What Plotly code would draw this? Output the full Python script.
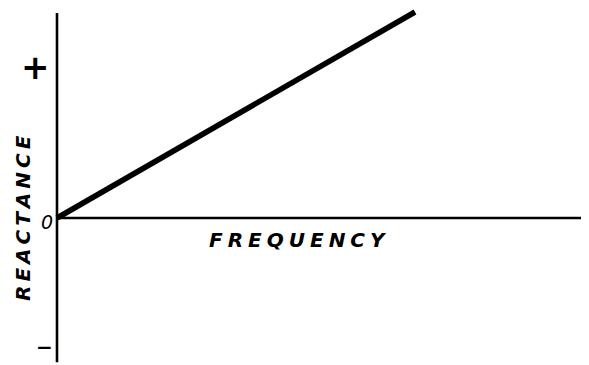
import plotly.graph_objects as go

# the page puts the figure 8px in from the top-left corner
PAGE_W, PAGE_H, PAD = 589, 365, 8
W, H = PAGE_W - PAD, PAGE_H - PAD

# inductive reactance grows in proportion to frequency
frequency = [0.0, 1.0]
reactance = [0.0, 1.0]

axis_x_span = [0.0, 1.478]
axis_y_span = [-0.70, 0.995]

FONT = "DejaVu Sans"
TS = "\u2009"  # thin space to stretch the lettering
QS = "\u2005"  # four-per-em space


def spaced(word, gap):
    return gap.join(word)


def to_paper(x, y):
    return (x - PAD) / W, 1 - (y - PAD) / H


fig = go.Figure()

# hand-drawn style axes
fig.add_trace(go.Scatter(x=[0, 0], y=axis_y_span, mode="lines",
                         line=dict(color="black", width=2.6), hoverinfo="skip"))
fig.add_trace(go.Scatter(x=axis_x_span, y=[0, 0], mode="lines",
                         line=dict(color="black", width=2.4), hoverinfo="skip"))
fig.add_trace(go.Scatter(x=frequency, y=reactance, mode="lines",
                         line=dict(color="black", width=5.5), hoverinfo="skip"))

labels = [
    ("<b>+</b>", 35, 67, 34, 0),
    ("<b>\u2212</b>", 44, 347, 20, 0),
    ("<i>0</i>", 47, 222, 19, 0),
    ("<b><i>" + spaced("REACTANCE", TS) + "</i></b>", 23, 218, 20, -90),
    ("<b><i>" + spaced("FREQUENCY", QS) + "</i></b>", 298, 240, 20, 0),
]
for text, x, y, size, angle in labels:
    px, py = to_paper(x, y)
    fig.add_annotation(text=text, x=px, y=py, xref="paper", yref="paper",
                       xanchor="center", yanchor="middle",
                       showarrow=False, textangle=angle,
                       font=dict(family=FONT, size=size, color="black"))

ox, oy = 57 - PAD, 218 - PAD
fig.update_xaxes(range=[-ox / 358, (W - ox) / 358], visible=False)
fig.update_yaxes(range=[-(H - oy) / 206, oy / 206], visible=False)
fig.update_layout(
    width=W, height=H,
    margin=dict(l=0, r=0, t=0, b=0),
    paper_bgcolor="white", plot_bgcolor="white",
    showlegend=False,
)

fig.write_html("out.html")
